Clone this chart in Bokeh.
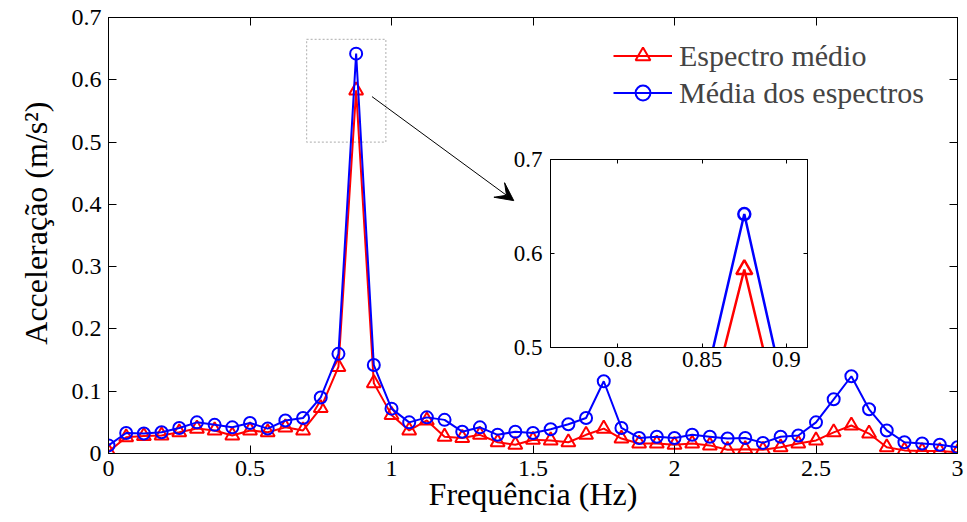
from bokeh.plotting import figure
from bokeh.models import (Range1d, FixedTicker, LinearAxis, Arrow, VeeHead, Title,
                          BoxAnnotation, Legend, LegendItem)
from bokeh.layouts import column
from bokeh.embed import file_html
from bokeh.resources import INLINE

# ---------------- data ----------------
freq = [0.0, 0.0625, 0.125, 0.1875, 0.25, 0.3125, 0.375, 0.4375, 0.5, 0.5625,
        0.625, 0.6875, 0.75, 0.8125, 0.875, 0.9375, 1.0, 1.0625, 1.125, 1.1875,
        1.25, 1.3125, 1.375, 1.4375, 1.5, 1.5625, 1.625, 1.6875, 1.75, 1.8125,
        1.875, 1.9375, 2.0, 2.0625, 2.125, 2.1875, 2.25, 2.3125, 2.375, 2.4375,
        2.5, 2.5625, 2.625, 2.6875, 2.75, 2.8125, 2.875, 2.9375, 3.0]

espectro_medio = [0.003, 0.026, 0.028, 0.029, 0.034, 0.040, 0.037, 0.029, 0.037, 0.034,
                  0.042, 0.037, 0.073, 0.139, 0.583, 0.113, 0.062, 0.037, 0.053, 0.027,
                  0.025, 0.030, 0.018, 0.014, 0.022, 0.021, 0.018, 0.030, 0.040, 0.024,
                  0.016, 0.016, 0.014, 0.016, 0.013, 0.006, 0.007, 0.006, 0.010, 0.016,
                  0.021, 0.034, 0.045, 0.032, 0.010, 0.005, 0.004, 0.004, 0.002]

media_espectros = [0.013, 0.033, 0.032, 0.034, 0.041, 0.050, 0.046, 0.042, 0.049, 0.040,
                   0.053, 0.057, 0.090, 0.160, 0.642, 0.142, 0.072, 0.050, 0.058, 0.054,
                   0.035, 0.042, 0.030, 0.035, 0.033, 0.039, 0.047, 0.057, 0.116, 0.041,
                   0.025, 0.027, 0.025, 0.030, 0.027, 0.024, 0.025, 0.017, 0.027, 0.029,
                   0.050, 0.087, 0.124, 0.071, 0.037, 0.018, 0.016, 0.014, 0.010]

x_ticks = [0, 0.5, 1, 1.5, 2, 2.5, 3]
x_tick_labels = ["0", "0.5", "1", "1.5", "2", "2.5", "3"]
y_ticks = [0, 0.1, 0.2, 0.3, 0.4, 0.5, 0.6, 0.7]
y_tick_labels = ["0", "0.1", "0.2", "0.3", "0.4", "0.5", "0.6", "0.7"]

inset_x_range = [0.76, 0.9125]
inset_y_range = [0.5, 0.7]
inset_x_ticks = [0.8, 0.85, 0.9]
inset_x_tick_labels = ["0.8", "0.85", "0.9"]
inset_y_ticks = [0.5, 0.6, 0.7]
inset_y_tick_labels = ["0.5", "0.6", "0.7"]

zoom_box = dict(left=0.7, right=0.98, bottom=0.5, top=0.665)
arrow_from = (0.931, 0.573)
arrow_to = (1.432, 0.406)

label_red = "Espectro médio"
label_blue = "Média dos espectros"
xlabel = "Frequência (Hz)"
ylabel = "Acceleração (m/s²)"

RED = "#ff0000"
BLUE = "#0000ff"
FONT = "Liberation Serif"


def style_axes(fig, xt, xtl, yt, ytl, font_size, tick_len, xstand, ystand):
    for ax in fig.xaxis:
        ax.ticker = FixedTicker(ticks=xt)
        ax.major_label_overrides = {t: l for t, l in zip(xt, xtl)}
        ax.major_label_standoff = xstand
    for ax in fig.yaxis:
        ax.ticker = FixedTicker(ticks=yt)
        ax.major_label_overrides = {t: l for t, l in zip(yt, ytl)}
        ax.major_label_standoff = ystand
    for ax in fig.axis:
        ax.major_tick_in = tick_len
        ax.major_tick_out = 0
        ax.minor_tick_line_color = None
        ax.axis_line_color = "black"
        ax.major_tick_line_color = "black"
        ax.major_label_text_font = FONT
        ax.major_label_text_font_size = font_size
        ax.major_label_text_color = "black"


def add_mirror_axes(fig, xt, yt, tick_len):
    for ticks, side in ((xt, "above"), (yt, "right")):
        ax = LinearAxis(ticker=FixedTicker(ticks=ticks), major_label_text_font_size="1px",
                        major_label_text_color=None, major_label_standoff=0,
                        major_tick_in=tick_len, major_tick_out=0,
                        minor_tick_line_color=None, axis_line_color="black")
        fig.add_layout(ax, side)


# ---------------- main figure ----------------
p = figure(width=967, height=522, output_backend="svg", toolbar_location=None,
           x_range=Range1d(0, 3), y_range=Range1d(0, 0.7),
           min_border_left=108, min_border_right=7, min_border_top=17,
           min_border_bottom=69, background_fill_color="white",
           border_fill_color="white")
p.grid.visible = False
p.outline_line_color = "black"

style_axes(p, x_ticks, x_tick_labels, y_ticks, y_tick_labels, "24px", 8, 7, 7)

xax = p.below[0]
xax.axis_label = xlabel
xax.axis_label_text_font = FONT
xax.axis_label_text_font_size = "32px"
xax.axis_label_text_font_style = "normal"
xax.axis_label_text_color = "black"
xax.axis_label_standoff = -3

add_mirror_axes(p, x_ticks, y_ticks, 8)

p.add_layout(Title(text=ylabel, align="right", offset=84, standoff=29,
                   text_font=FONT, text_font_size="32px", text_font_style="normal",
                   text_color="black"),
             "left")

rl = p.line(freq, espectro_medio, line_color=RED, line_width=2)
rs = p.scatter(freq, espectro_medio, marker="triangle", size=14, line_color=RED,
               fill_color=None, line_width=2)
bl = p.line(freq, media_espectros, line_color=BLUE, line_width=2)
bs = p.scatter(freq, media_espectros, marker="circle", size=12, line_color=BLUE,
               fill_color=None, line_width=2)

p.add_layout(BoxAnnotation(fill_alpha=0, line_color="#222222", line_dash="2 2",
                           line_width=1.2, **zoom_box))
p.add_layout(Arrow(end=VeeHead(size=18, fill_color="black", line_color="black"),
                   x_start=arrow_from[0], y_start=arrow_from[1],
                   x_end=arrow_to[0], y_end=arrow_to[1],
                   line_color="black", line_width=1))

legend = Legend(items=[LegendItem(label=label_red, renderers=[rl, rs]),
                       LegendItem(label=label_blue, renderers=[bl, bs])],
                location=(505, 342), padding=0, margin=0, spacing=0,
                glyph_width=59, glyph_height=37, label_height=37, label_standoff=7,
                label_text_font=FONT, label_text_font_size="30px",
                border_line_color=None, background_fill_alpha=0)
p.add_layout(legend)

# ---------------- inset figure ----------------
q = figure(width=375, height=237, output_backend="svg", toolbar_location=None,
           x_range=Range1d(*inset_x_range), y_range=Range1d(*inset_y_range),
           min_border_left=50, min_border_right=10, min_border_top=14,
           min_border_bottom=35, background_fill_color="white",
           border_fill_color=None)
q.grid.visible = False
q.outline_line_color = "black"
style_axes(q, inset_x_ticks, inset_x_tick_labels, inset_y_ticks, inset_y_tick_labels,
           "23px", 4, 4, 8)
add_mirror_axes(q, inset_x_ticks, inset_y_ticks, 4)

q.line(freq, espectro_medio, line_color=RED, line_width=2.5)
q.scatter(freq, espectro_medio, marker="triangle", size=16, line_color=RED,
          fill_color=None, line_width=2.5)
q.line(freq, media_espectros, line_color=BLUE, line_width=2.5)
q.scatter(freq, media_espectros, marker="circle", size=12, line_color=BLUE,
          fill_color=None, line_width=2.5)

q.styles = {"position": "absolute", "left": "442px", "top": "145px"}

layout = column(p, q)
open("out.html", "w").write(file_html(layout, INLINE))
